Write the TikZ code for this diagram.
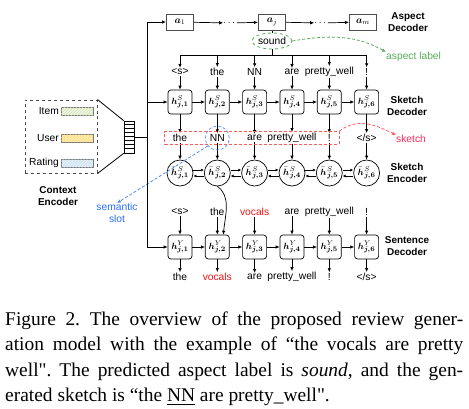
\documentclass[tikz,border=0pt]{standalone}
\usepackage{fontspec}
\usepackage{amsmath}
\usepackage{bm}
\setmainfont{Liberation Serif}
\setsansfont{Liberation Sans}
\newfontfamily\capfont{Liberation Serif}
\usetikzlibrary{arrows.meta,patterns,shapes.geometric,fit}

\definecolor{asplabel}{RGB}{90,170,90}
\definecolor{sklabel}{RGB}{255,40,90}
\definecolor{skbox}{RGB}{255,90,90}
\definecolor{slotblue}{RGB}{40,110,255}
\definecolor{vocred}{RGB}{240,20,20}
\definecolor{swgray}{RGB}{120,120,120}

\tikzset{
  arr/.style={-{Latex[length=4bp,width=3.5bp]}, line width=0.7bp},
  sarr/.style={-{Latex[length=3bp,width=3bp]}, line width=0.6bp},
  aspbox/.style={draw=black!70, line width=1bp, minimum width=27bp, minimum height=16bp, inner sep=0pt},
  decbox/.style={draw, rounded corners=3bp, line width=0.7bp, minimum width=24bp, minimum height=24bp, inner sep=0pt, fill=white, font=\fontsize{9.5}{10}\selectfont},
  encnode/.style={draw, circle, line width=0.7bp, minimum size=26bp, inner sep=0pt, fill=white, font=\fontsize{9.5}{10}\selectfont},
  word/.style={inner sep=1bp},
  sidelabel/.style={font=\sffamily\bfseries\fontsize{10}{11.5}\selectfont, align=center, inner sep=0pt},
  swatch/.style={draw=swgray, line width=0.8bp, minimum width=32bp, minimum height=8bp, inner sep=0pt}
}

\begin{document}
\begin{tikzpicture}[x=1bp, y=-1bp, font=\sffamily\fontsize{10.3}{12}\selectfont]
  \useasboundingbox (0,0) rectangle (469,408);

  % Context encoder
  \node[draw=black!70, dashed, line width=1bp, minimum width=72bp, minimum height=73bp] (ctxbox) at (61,136.5) {};
  \node[anchor=east, inner sep=0pt] (litem) at (59,111) {Item};
  \node[anchor=east, inner sep=0pt] (luser) at (59,138) {User};
  \node[anchor=east, inner sep=0pt] (lrating) at (59,163) {Rating};
  \node[swatch, fill={rgb,255:red,240;green,245;blue,228}, postaction={pattern=north east lines, pattern color={rgb,255:red,205;green,220;blue,170}}] (sitem) at (77,111) {};
  \node[swatch, fill={rgb,255:red,255;green,236;blue,170}, postaction={pattern=crosshatch dots, pattern color={rgb,255:red,250;green,205;blue,100}}] (suser) at (77,138) {};
  \node[swatch, fill={rgb,255:red,230;green,241;blue,248}, postaction={pattern=north east lines, pattern color={rgb,255:red,185;green,212;blue,232}}] (srating) at (77,163) {};
  \node[sidelabel] (lctx) at (58,196) {Context\\Encoder};

  \node[draw, line width=0.7bp, minimum width=10bp, minimum height=32bp, inner sep=0pt] (bar) at (129,137) {};
  \foreach \k in {1,...,7}
    \draw[line width=0.4bp] ([yshift=-\k*4bp]bar.north west) -- ([yshift=-\k*4bp]bar.north east);
  \draw[line width=0.8bp] (ctxbox.north east) -- (bar.north west);
  \draw[line width=0.8bp] (ctxbox.south east) -- (bar.south west);
  \coordinate (trk) at (147,137);
  \draw[line width=0.8bp] (bar.east) -- (trk);

  % Aspect decoder
  \node[aspbox] (a1) at (180,22) {$\bm a_1$};
  \node[aspbox] (aj) at (272,22) {$\bm a_j$};
  \node[aspbox] (am) at (363,22) {$\bm a_m$};
  \node[inner sep=0pt] (d1) at (230,23) {$\cdots$};
  \node[inner sep=0pt] (d2) at (321,23) {$\cdots$};
  \draw[arr] (a1) -- (d1);
  \draw[arr] (d1) -- (aj);
  \draw[arr] (aj) -- (d2);
  \draw[arr] (d2) -- (am);
  \node[sidelabel] (lasd) at (408,22) {Aspect\\Decoder};

  \node[draw=asplabel, dashed, line width=0.8bp, ellipse, minimum width=40bp, minimum height=16bp, inner sep=0pt] (snd) at (272,41) {sound};
  \draw[line width=0.7bp] (aj) -- (snd);
  \coordinate (bus) at (272,55);
  \draw[line width=0.7bp] (snd) -- (bus);
  \node[text=asplabel, anchor=west, inner sep=0pt] (lasp) at (386,57) {aspect label};
  \draw[asplabel, densely dashed, line width=0.8bp, -{Latex[length=4bp,width=3.5bp]}] (snd.east) .. controls +(45,-8) and +(-25,-14) .. (lasp.north west);

  % Sketch decoder
  \foreach \i/\x/\w in {1/180/{<s>}, 2/217.3/the, 3/254.6/NN, 4/292/are, 5/329.3/pretty\_well, 6/366.6/!} {
    \node[word] (w1-\i) at (\x,72) {\w};
    \node[decbox] (hs-\i) at (\x,102) {$\bm h^{S}_{\bm{j,\i}}$};
    \draw[arr] (w1-\i |- bus) -- (w1-\i);
    \draw[arr] (w1-\i) -- (hs-\i);
  }
  \draw[line width=0.7bp] (w1-1 |- bus) -- (w1-6 |- bus);
  \foreach \i/\j in {1/2, 2/3, 3/4, 4/5, 5/6}
    \draw[arr] (hs-\i) -- (hs-\j);
  \draw[arr] (trk) |- (a1);
  \draw[arr] (trk) |- (hs-1);
  \node[sidelabel] (lskd) at (407,106) {Sketch\\Decoder};

  % Sketch
  \foreach \i/\x/\w in {1/180/the, 2/217.3/NN, 3/254.6/are, 4/292/pretty\_well, 5/329.3/!, 6/366.6/{</s>}} {
    \node[word] (w2-\i) at (\x,138) {\w};
    \node[encnode] (he-\i) at (\x,173) {$\bar{\bm h}\mkern1mu{}^{S}_{\bm{j,\i}}$};
    \draw[arr] (hs-\i) -- (w2-\i);
    \draw[arr] (w2-\i) -- (he-\i);
  }
  \node[draw=skbox, densely dashed, line width=0.8bp, inner xsep=7bp, inner ysep=1.5bp, fit=(w2-1)(w2-5)] (sk) {};
  \node[draw=slotblue!70, densely dashed, line width=0.8bp, circle, minimum size=24bp, inner sep=0pt] (slot) at (w2-2) {};
  \node[text=sklabel, anchor=west, inner sep=0pt] (lsk) at (396,139) {sketch};
  \draw[skbox, densely dashed, line width=0.8bp, -{Latex[length=4bp,width=3.5bp]}] (sk.north east) .. controls +(18,-14) and +(-20,-10) .. (lsk.north west);
  \node[text=slotblue, align=center, inner sep=0pt] (lslot) at (117,213) {semantic\\slot};
  \draw[slotblue!80, densely dashed, line width=0.8bp, -{Latex[length=4bp,width=3.5bp]}] (slot.220) -- (lslot.north);

  % Sketch encoder
  \foreach \i/\j in {1/2, 2/3, 3/4, 4/5, 5/6} {
    \draw[sarr] ([yshift=3bp]he-\i.east) -- ([yshift=3bp]he-\j.west);
    \draw[sarr] ([yshift=-3bp]he-\j.west) -- ([yshift=-3bp]he-\i.east);
  }
  \node[sidelabel] (lske) at (407,173) {Sketch\\Encoder};

  % Sentence decoder
  \foreach \i/\x/\w/\v in {1/180/{<s>}/the, 2/217.3/the/{\textcolor{vocred}{vocals}}, 3/254.6/{\textcolor{vocred}{vocals}}/are, 4/292/are/pretty\_well, 5/329.3/pretty\_well/!, 6/366.6/!/{</s>}} {
    \node[word] (w3-\i) at (\x,212) {\w};
    \node[decbox] (hy-\i) at (\x,247) {$\bm h^{Y}_{\bm{j,\i}}$};
    \node[word] (w4-\i) at (\x,277) {\v};
    \draw[arr] (w3-\i) -- (hy-\i);
    \draw[arr] (hy-\i) -- (w4-\i);
  }
  \foreach \i/\j in {1/2, 2/3, 3/4, 4/5, 5/6}
    \draw[arr] (hy-\i) -- (hy-\j);
  \draw[arr] (trk) |- (hy-1);
  \draw[arr] (he-2.south) .. controls +(14,10) and +(2,-20) .. ([xshift=6bp]hy-2.north);
  \node[sidelabel] (lsnd) at (407,246) {Sentence\\Decoder};

  % Caption
  \node[anchor=base west, inner sep=0pt, text width=458bp, align=justify, font=\capfont\fontsize{19.5}{25.7}\selectfont\frenchspacing] (cap) at (5,325)
    {Figure 2.\enspace The overview of the proposed review gener-\linebreak ation model with the example of “the vocals are pretty\linebreak well". The predicted aspect label is \emph{sound}, and the gen-\linebreak erated sketch is “the \underline{NN} are pretty\_well".};
\end{tikzpicture}
\end{document}
